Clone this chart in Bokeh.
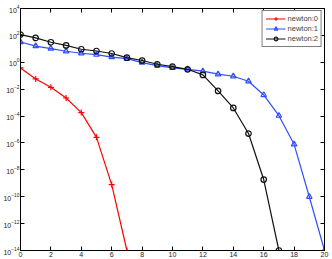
from bokeh.plotting import figure
from bokeh.models import LogAxis, LinearAxis, FixedTicker, Range1d, Legend, LegendItem, CustomJSTickFormatter
from bokeh.embed import file_html
from bokeh.resources import INLINE

x0 = list(range(0, 8))
newton0 = [0.38, 0.058, 0.0138, 0.0022, 1.8e-4, 2.6e-6, 8e-10, 1e-14]
x1 = list(range(0, 21))
newton1 = [32, 16, 10.5, 6.6, 4.7, 3.7, 2.45, 1.86, 0.95, 0.56, 0.38, 0.30, 0.22, 0.13,
           0.091, 0.039, 3.7e-3, 1.07e-4, 7.9e-7, 1e-10, 1e-14]
x2 = list(range(0, 18))
newton2 = [115, 65, 31, 18, 9.3, 6.9, 4.5, 2.2, 1.35, 0.71, 0.48, 0.30, 0.115, 7.4e-3,
           4.0e-4, 5e-6, 1.9e-9, 1e-14]
x_ticks = list(range(0, 21, 2))
y_ticks = [1e-14, 1e-12, 1e-10, 1e-8, 1e-6, 1e-4, 1e-2, 1e0, 1e2, 1e4]
labels = ["newton:0", "newton:1", "newton:2"]

FONT = "Liberation Sans"

p = figure(width=332, height=259, y_axis_type="log",
           x_range=Range1d(0, 20), y_range=Range1d(1e-14, 1e4),
           output_backend="svg", toolbar_location=None,
           min_border_left=0, min_border_right=8, min_border_top=8, min_border_bottom=9)
p.grid.visible = False
p.outline_line_color = "black"
p.outline_line_width = 1

def style(ax, ticks, show):
    ax.ticker = FixedTicker(ticks=ticks, minor_ticks=[])
    ax.major_tick_in = 4
    ax.major_tick_out = 0
    ax.minor_tick_in = 0
    ax.minor_tick_out = 0
    ax.axis_line_color = "black"
    ax.major_tick_line_color = "black"
    ax.major_label_text_font = FONT
    ax.major_label_text_color = "#222222"
    if show:
        ax.major_label_text_font_size = "7px"
        ax.major_label_standoff = 1
    else:
        ax.formatter = CustomJSTickFormatter(code="return ''")
        ax.major_label_text_font_size = "1px"
        ax.major_label_standoff = 0

style(p.xaxis[0], x_ticks, True)
style(p.yaxis[0], y_ticks, True)
top = LinearAxis()
style(top, x_ticks, False)
p.add_layout(top, "above")
right = LogAxis()
style(right, y_ticks, False)
p.add_layout(right, "right")

red = "#ff0000"
blue = "#2e4dff"
black = "#111111"

r0l = p.line(x0, newton0, color=red, line_width=1.2)
r0m = p.scatter(x0, newton0, marker="cross", size=6, line_color=red, line_width=1.2)
r1l = p.line(x1, newton1, color=blue, line_width=1.2)
r1m = p.scatter(x1, newton1, marker="triangle", size=5.5, line_color=blue, fill_color=None, line_width=1.2)
r2l = p.line(x2, newton2, color=black, line_width=1.2)
r2m = p.scatter(x2, newton2, marker="circle", size=5.5, line_color=black, fill_color=None, line_width=1.2)

legend = Legend(items=[
    LegendItem(label=labels[0], renderers=[r0l, r0m]),
    LegendItem(label=labels[1], renderers=[r1l, r1m]),
    LegendItem(label=labels[2], renderers=[r2l, r2m]),
], location="top_right")
legend.label_text_font = FONT
legend.label_text_font_size = "7.5px"
legend.label_height = 9
legend.glyph_height = 9
legend.glyph_width = 20
legend.spacing = 1
legend.padding = 3
legend.margin = 2
legend.label_standoff = 2
legend.border_line_color = "black"
legend.border_line_width = 1
legend.background_fill_alpha = 1
p.add_layout(legend, "center")

open("out.html", "w").write(file_html(p, INLINE))
